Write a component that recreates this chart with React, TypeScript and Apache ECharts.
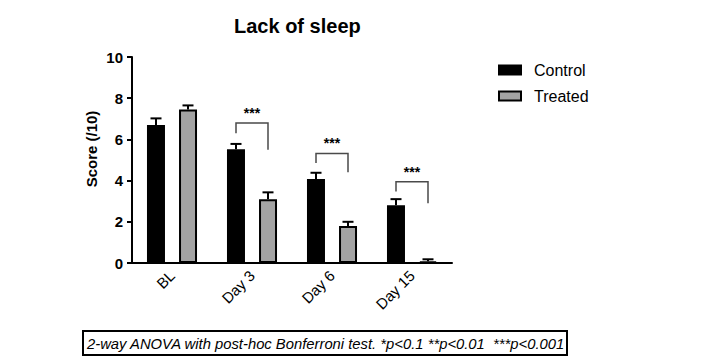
import React, { useEffect, useRef } from "react";
import * as echarts from "echarts";

const categories = ["BL", "Day 3", "Day 6", "Day 15"];
const controlValues = [6.7, 5.52, 4.08, 2.8];
const controlErrors = [0.32, 0.26, 0.3, 0.3];
const treatedValues = [7.45, 3.1, 1.8, 0.08];
const treatedErrors = [0.2, 0.33, 0.2, 0.1];
// [category index, bracket level, left leg end, right leg end]
const brackets = [
  [1, 6.8, 6.3, 5.5],
  [2, 5.32, 4.85, 4.4],
  [3, 3.95, 3.47, 2.9],
];
const bracketLabels = ["***", "***", "***"];
const yTicks = { min: 0, max: 10, interval: 2 };

const FONT = "'Liberation Sans', Arial, Helvetica, sans-serif";
const BAR_W = 18;
const BAR_OFFSET = 16;

export default function App() {
  const ref = useRef<HTMLDivElement>(null);
  useEffect(() => {
    if (!ref.current) return;
    const chart = echarts.init(ref.current, null, { renderer: "svg" });

    const errorSeries = (values: number[], errs: number[], sign: number, name: string) => ({
      type: "custom",
      name: name + " error",
      z: 5,
      silent: true,
      data: values.map((v, i) => [i, v, v + errs[i]]),
      renderItem: (params: any, api: any) => {
        const c = api.coord([api.value(0), api.value(1)]);
        const t = api.coord([api.value(0), api.value(2)]);
        const x = c[0] + sign * BAR_OFFSET;
        const hw = 5.5;
        const style = { stroke: "#000", lineWidth: 2 };
        return {
          type: "group",
          children: [
            { type: "line", shape: { x1: x, y1: c[1], x2: x, y2: t[1] }, style },
            { type: "line", shape: { x1: x - hw, y1: t[1], x2: x + hw, y2: t[1] }, style },
          ],
        };
      },
    });

    const option: any = {
      animation: false,
      textStyle: { fontFamily: FONT },
      title: {
        text: "Lack of sleep",
        left: 229,
        top: 11,
        textStyle: { fontFamily: FONT, fontSize: 20, fontWeight: "bold", color: "#000" },
      },
      legend: {
        left: 493,
        top: 57,
        orient: "vertical",
        itemWidth: 22,
        itemHeight: 9,
        itemGap: 10,
        icon: "rect",
        data: ["Control", "Treated"],
        textStyle: { fontFamily: FONT, fontSize: 16, color: "#000", padding: [0, 0, 0, 8] },
      },
      grid: { left: 132, right: 265, top: 57, bottom: 97 },
      xAxis: {
        type: "category",
        data: categories,
        axisLine: { lineStyle: { color: "#000", width: 2 } },
        axisTick: { alignWithLabel: true, length: 6, lineStyle: { color: "#000", width: 2 } },
        axisLabel: { rotate: 45, fontFamily: FONT, fontSize: 15, color: "#000", margin: 10 },
      },
      yAxis: {
        type: "value",
        min: yTicks.min,
        max: yTicks.max,
        interval: yTicks.interval,
        splitLine: { show: false },
        axisLine: { show: true, lineStyle: { color: "#000", width: 2 } },
        axisTick: { show: true, length: 5, lineStyle: { color: "#000", width: 2 } },
        axisLabel: { fontFamily: FONT, fontSize: 15, fontWeight: "bold", color: "#000", margin: 9 },
      },
      series: [
        {
          type: "bar",
          name: "Control",
          data: controlValues,
          barWidth: BAR_W,
          barGap: "78%",
          itemStyle: { color: "#000", borderColor: "#000", borderWidth: 2 },
        },
        {
          type: "bar",
          name: "Treated",
          data: treatedValues,
          barWidth: BAR_W,
          itemStyle: { color: "#a3a3a3", borderColor: "#000", borderWidth: 2 },
        },
        errorSeries(controlValues, controlErrors, -1, "Control"),
        errorSeries(treatedValues, treatedErrors, 1, "Treated"),
        {
          type: "custom",
          name: "significance",
          z: 6,
          silent: true,
          data: brackets,
          renderItem: (params: any, api: any) => {
            const cat = api.value(0);
            const top = api.coord([cat, api.value(1)]);
            const l = api.coord([cat, api.value(2)]);
            const r = api.coord([cat, api.value(3)]);
            const x1 = top[0] - BAR_OFFSET;
            const x2 = top[0] + BAR_OFFSET;
            return {
              type: "group",
              children: [
                {
                  type: "polyline",
                  shape: { points: [[x1, l[1]], [x1, top[1]], [x2, top[1]], [x2, r[1]]] },
                  style: { stroke: "#4a4a4a", lineWidth: 1.5, fill: null },
                },
                {
                  type: "text",
                  x: top[0],
                  y: top[1] - 3,
                  style: {
                    text: bracketLabels[params.dataIndex],
                    fontFamily: FONT,
                    fontSize: 14,
                    fontWeight: "bold",
                    fill: "#000",
                    textAlign: "center",
                    textVerticalAlign: "bottom",
                  },
                },
              ],
            };
          },
        },
      ],
      graphic: [
        {
          type: "text",
          x: 91,
          y: 149,
          rotation: Math.PI / 2,
          style: {
            text: "Score (/10)",
            fontFamily: FONT,
            fontSize: 15,
            fontWeight: "bold",
            fill: "#000",
            textAlign: "center",
            textVerticalAlign: "middle",
          },
        },
        {
          type: "rect",
          shape: { x: 83, y: 331, width: 484, height: 24 },
          style: { fill: "#fff", stroke: "#000", lineWidth: 2 },
        },
        {
          type: "text",
          x: 87,
          y: 343.5,
          style: {
            text: "2-way ANOVA with post-hoc Bonferroni test. *p<0.1 **p<0.01  ***p<0.001",
            fontFamily: FONT,
            fontSize: 14.8,
            fontStyle: "italic",
            fill: "#000",
            textVerticalAlign: "middle",
          },
        },
      ],
    };
    chart.setOption(option);
    return () => chart.dispose();
  }, []);
  return <div ref={ref} style={{ width: 717, height: 360, position: "absolute", left: 0, top: 0 }} />;
}
